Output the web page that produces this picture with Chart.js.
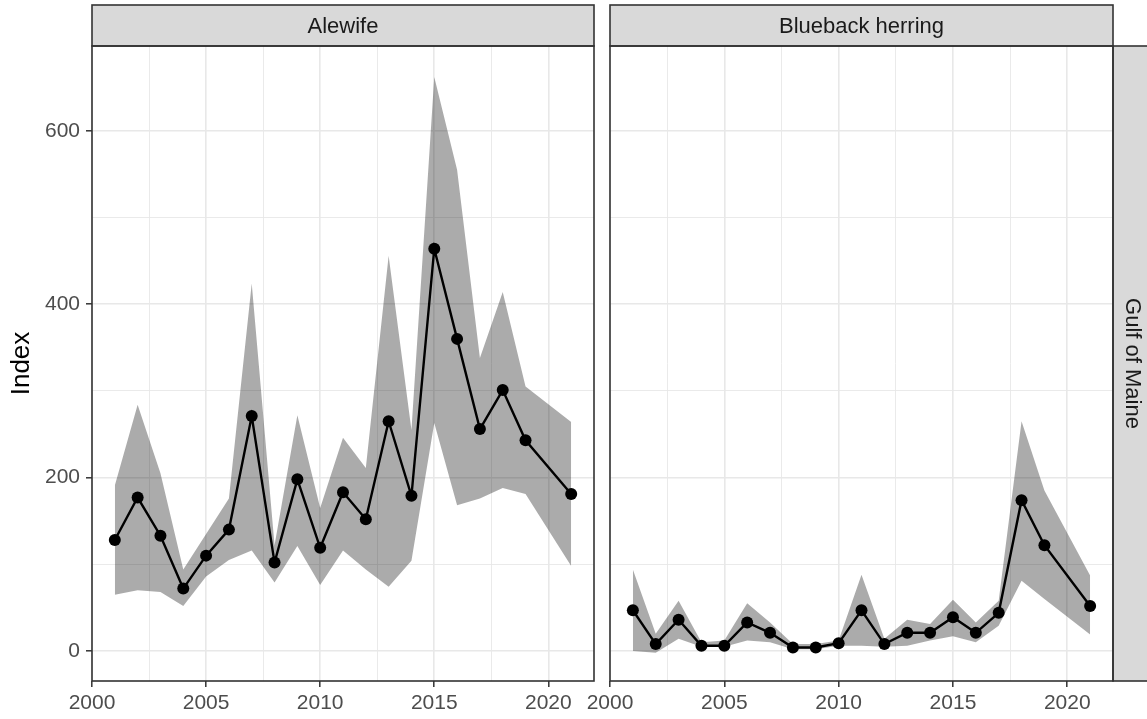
<!DOCTYPE html>
<html>
<head>
<meta charset="utf-8">
<script src="https://cdn.jsdelivr.net/npm/chart.js@4/dist/chart.umd.min.js"></script>
<style>
  html, body { margin: 0; padding: 0; background: #fff; }
  #wrap { position: relative; width: 1147px; height: 719px; overflow: hidden; }
  canvas { position: absolute; top: 0; }
  #left { left: 0; }
  #right { left: 560px; }
</style>
</head>
<body>
<div id="wrap">
  <canvas id="left" width="600" height="719"></canvas>
  <canvas id="right" width="587" height="719"></canvas>
</div>
<script>
// years (2020 has no survey value)
const years = [2001, 2002, 2003, 2004, 2005, 2006, 2007, 2008, 2009, 2010,
               2011, 2012, 2013, 2014, 2015, 2016, 2017, 2018, 2019, 2021];

// Alewife
const alewifeIndex = [128, 177, 133, 72, 110, 140, 271, 102, 198, 119,
                      183, 152, 265, 179, 464, 360, 256, 301, 243, 181];
const alewifeLower = [65, 70, 68, 52, 86, 105, 116, 79, 121, 76,
                      116, 94, 74, 104, 263, 168, 176, 188, 181, 98];
const alewifeUpper = [191, 284, 205, 94, 135, 176, 424, 122, 272, 165,
                      246, 211, 456, 255, 662, 555, 338, 414, 305, 264];

// Blueback herring
const bluebackIndex = [47, 8, 36, 6, 6, 33, 21, 4, 4, 9,
                       47, 8, 21, 21, 39, 21, 44, 174, 122, 52];
const bluebackLower = [0, -2, 14, 5, 5, 12, 10, 2, 2, 6,
                       6, 5, 6, 12, 17, 10, 29, 81, 60, 19];
const bluebackUpper = [94, 20, 58, 10, 12, 55, 33, 8, 8, 12,
                       88, 14, 36, 31, 59, 33, 58, 265, 185, 87];

// grid / tick values
const xGrid = [2000, 2002.5, 2005, 2007.5, 2010, 2012.5, 2015, 2017.5, 2020];
const yGrid = [0, 100, 200, 300, 400, 500, 600];

const FONT = '"Liberation Sans", Arial, sans-serif';
const pts = (vals) => years.map((y, i) => ({ x: y, y: vals[i] }));
const isMajorX = v => v % 5 === 0;
const isMajorY = v => v % 200 === 0;

// draws the ggplot-like strips and panel border
const facetFrame = {
  id: 'facetFrame',
  afterDraw(chart, args, opts) {
    const { ctx, chartArea: a } = chart;
    ctx.save();
    // top strip
    ctx.fillStyle = '#d9d9d9';
    ctx.fillRect(a.left, 5, a.right - a.left, a.top - 5);
    ctx.strokeStyle = '#333333';
    ctx.lineWidth = 1.6;
    ctx.strokeRect(a.left, 5, a.right - a.left, a.top - 5);
    ctx.fillStyle = '#1a1a1a';
    ctx.font = '22px ' + FONT;
    ctx.textAlign = 'center';
    ctx.textBaseline = 'middle';
    ctx.fillText(opts.label, (a.left + a.right) / 2, (5 + a.top) / 2 + 1);
    // right strip
    if (opts.side) {
      const w = chart.width - a.right;
      ctx.fillStyle = '#d9d9d9';
      ctx.fillRect(a.right, a.top, w + 2, a.bottom - a.top);
      ctx.strokeRect(a.right, a.top, w + 4, a.bottom - a.top);
      ctx.save();
      ctx.translate(a.right + w / 2 + 2, (a.top + a.bottom) / 2);
      ctx.rotate(Math.PI / 2);
      ctx.fillStyle = '#1a1a1a';
      ctx.fillText(opts.side, 0, 0);
      ctx.restore();
    }
    // panel border
    ctx.strokeStyle = '#333333';
    ctx.strokeRect(a.left, a.top, a.right - a.left, a.bottom - a.top);
    ctx.restore();
  }
};

function makePanel(canvasId, label, side, idx, lower, upper, isLeft) {
  new Chart(document.getElementById(canvasId), {
    type: 'line',
    data: {
      datasets: [
        {
          data: pts(idx),
          borderColor: '#000',
          borderWidth: 2.4,
          pointRadius: 6,
          pointBackgroundColor: '#000',
          pointBorderWidth: 0,
          fill: false,
          tension: 0
        },
        {
          data: pts(lower),
          borderWidth: 0,
          pointRadius: 0,
          fill: false
        },
        {
          data: pts(upper),
          borderWidth: 0,
          pointRadius: 0,
          backgroundColor: 'rgba(0,0,0,0.33)',
          fill: '-1'
        }
      ]
    },
    options: {
      responsive: false,
      animation: false,
      events: [],
      layout: {
        padding: isLeft ? { top: 46, right: 5, left: 0, bottom: 0 }
                        : { top: 46, right: 34, left: 50, bottom: 0 }
      },
      scales: {
        x: {
          type: 'linear',
          min: 2000,
          max: 2022,
          afterBuildTicks: s => { s.ticks = xGrid.map(v => ({ value: v })); },
          afterFit: s => { s.height = 38; },
          ticks: {
            autoSkip: false,
            maxRotation: 0,
            padding: 4,
            color: '#4d4d4d',
            font: { family: FONT, size: 21 },
            callback: v => isMajorX(v) ? String(v) : ''
          },
          grid: {
            color: '#e8e8e8',
            lineWidth: c => (c.tick && isMajorX(c.tick.value)) ? 1.6 : 0.9,
            tickLength: 6,
            tickColor: c => (c.tick && isMajorX(c.tick.value)) ? '#333333' : 'rgba(0,0,0,0)',
            tickWidth: 1.5
          },
          border: { display: false }
        },
        y: {
          min: -34.6,
          max: 697.8,
          afterBuildTicks: s => { s.ticks = yGrid.map(v => ({ value: v })); },
          afterFit: s => { s.width = isLeft ? 92 : 0; },
          ticks: {
            display: isLeft,
            padding: 6,
            color: '#4d4d4d',
            font: { family: FONT, size: 21 },
            callback: v => isMajorY(v) ? String(v) : ''
          },
          grid: {
            color: '#e8e8e8',
            lineWidth: c => (c.tick && isMajorY(c.tick.value)) ? 1.6 : 0.9,
            drawTicks: isLeft,
            tickLength: 6,
            tickColor: c => (c.tick && isMajorY(c.tick.value)) ? '#333333' : 'rgba(0,0,0,0)',
            tickWidth: 1.5
          },
          border: { display: false },
          title: {
            display: isLeft,
            text: 'Index',
            color: '#000',
            font: { family: FONT, size: 26 },
            padding: { top: 6, bottom: 0 }
          }
        }
      },
      plugins: {
        legend: { display: false },
        tooltip: { enabled: false },
        facetFrame: { label: label, side: side }
      }
    },
    plugins: [facetFrame]
  });
}

makePanel('left', 'Alewife', null, alewifeIndex, alewifeLower, alewifeUpper, true);
makePanel('right', 'Blueback herring', 'Gulf of Maine', bluebackIndex, bluebackLower, bluebackUpper, false);
</script>
</body>
</html>
